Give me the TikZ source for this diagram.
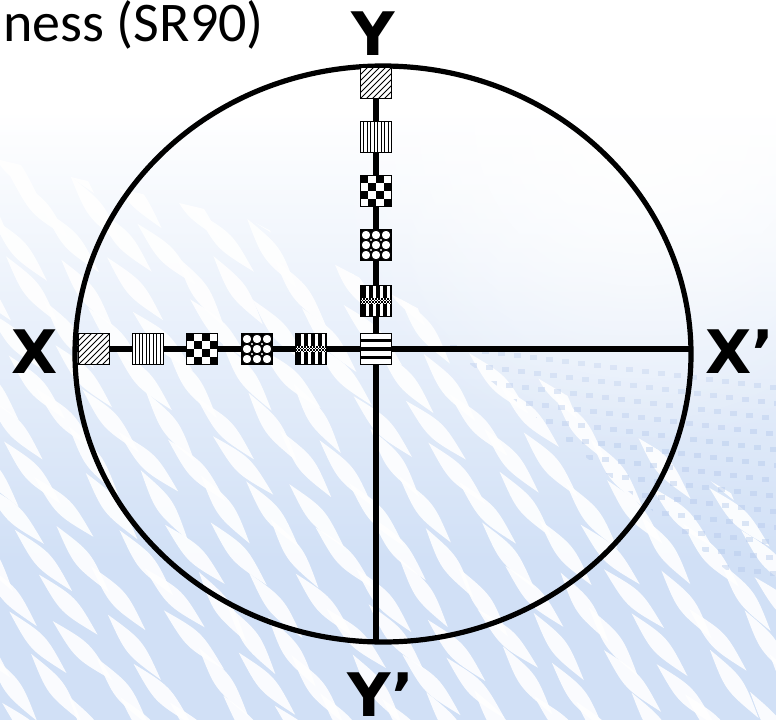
\documentclass[tikz,border=0pt]{standalone}
\usepackage{fontspec}
\setmainfont{Liberation Sans}
\newfontfamily\calib{Carlito}
\newfontfamily\heavy{DejaVu Sans}
\usetikzlibrary{fadings}
\definecolor{bgblue}{HTML}{D1E0F6}
\definecolor{bgdot}{HTML}{B5C9EC}
\tikzfading[name=radfade, inner color=transparent!0, outer color=transparent!100]
\tikzset{
  sq/.style={draw=black, line width=1.8pt, fill=white, minimum width=31pt,
    minimum height=31pt, inner sep=0pt, outer sep=0pt},
  pdiag/.style={sq, path picture={\begin{scope}[shift={(path picture bounding box.center)}]
    \foreach \k in {-36,-30,...,36}{\draw[black, line width=1pt] (\k-16,16) -- (\k+16,-16);}
    \end{scope}}},
  pvert/.style={sq, path picture={\begin{scope}[shift={(path picture bounding box.center)}]
    \foreach \k in {-12.25,-8.75,...,12.3}{\draw[black, line width=1.3pt] (\k,-16) -- (\k,16);}
    \end{scope}}},
  pcheck/.style={sq, path picture={\begin{scope}[shift={(path picture bounding box.center)}]
    \foreach \i/\j in {0/0,0/2,1/1,1/3,2/0,2/2,3/1,3/3}
      {\fill[black] (-15.5+\i*7.75,-15.5+\j*7.75) rectangle ++(7.75,7.75);}
    \end{scope}}},
  pcirc/.style={sq, path picture={\begin{scope}[shift={(path picture bounding box.center)}]
    \fill[black] (-16,-16) rectangle (16,16);
    \foreach \a in {-10,0,10}{\foreach \b in {-10,0,10}
      {\filldraw[fill=white, draw=black, line width=0.9pt] (\a,\b) circle (4.8);}}
    \foreach \a in {-5,5}{\foreach \b in {-5,5}{\fill[white] (\a,\b) circle (1.1);}}
    \end{scope}}},
  pweave/.style={sq, path picture={\begin{scope}[shift={(path picture bounding box.center)}]
    \fill[black] (-16,-16) rectangle (16,16);
    \foreach \k in {-10,-3,4,11}{\fill[white] (\k,-16) rectangle ++(2.6,32);}
    \fill[white] (-16,-3) rectangle (16,3);
    \foreach \k in {-16,-13,...,14}{
      \fill[black] (\k,-3) rectangle ++(1.5,1.5); \fill[black] (\k+1.5,-1.5) rectangle ++(1.5,1.5);
      \fill[black] (\k,0) rectangle ++(1.5,1.5); \fill[black] (\k+1.5,1.5) rectangle ++(1.5,1.5);}
    \end{scope}}},
  phoriz/.style={sq, path picture={\begin{scope}[shift={(path picture bounding box.center)}]
    \foreach \k in {-8.6,0,8.6}{\fill[black] (-16,\k-1.8) rectangle (16,\k+1.8);}
    \end{scope}}},
  axis/.style={line width=5.2pt, black},
  rim/.style={line width=5.2pt, black},
  lab/.style={font=\heavy\bfseries\fontsize{60}{60}\selectfont, inner sep=0pt},
}
\begin{document}
\begin{tikzpicture}[x=1pt,y=-1pt]
\useasboundingbox (0,0) rectangle (776,720);
% background
\fill[white] (0,0) rectangle (776,720);
\shade[top color=white, bottom color=bgblue] (0,110) rectangle (776,560);
\fill[bgblue] (0,559) rectangle (776,720);
\begin{scope}
  \clip (0,160) -- (250,220) -- (440,320) -- (776,520) -- (776,720) -- (0,720) -- cycle;
  \pgfmathsetseed{11}
  \foreach \i in {0,...,16}{\foreach \j in {0,...,13}{
    \pgfmathsetmacro{\cx}{-40+\i*52+mod(\j,2)*26+rand*8}
    \pgfmathsetmacro{\cy}{160+\j*44+rand*8}
    \pgfmathsetmacro{\ang}{-50+rand*6}
    \begin{scope}[shift={(\cx,\cy)}, rotate=\ang]
      \fill[white, opacity=0.9] (-42,0) .. controls (0,11) .. (42,0) .. controls (0,-11) .. (-42,0);
    \end{scope}}}
\end{scope}
\begin{scope}
  \clip (440,340) -- (776,360) -- (776,610) -- cycle;
  \foreach \r in {0,...,12}{\foreach \c in {0,...,20}{
    \fill[bgdot, opacity=0.45] (450+\c*16+\r*4,345+\r*16+\c*2) rectangle ++(7,5);}}
\end{scope}
\fill[white, path fading=radfade] (640,120) circle (330);
% ellipse and axes
\draw[rim] (383,354) ellipse [x radius=308, y radius=288];
\coordinate (W) at (75,349);
\coordinate (E) at (691,349);
\coordinate (N) at (376,66);
\coordinate (S) at (376,642);
\draw[axis] (W) -- (E);
\draw[axis] (N) -- (S);
% squares
\node[pdiag]  (h1) at (94,349) {};
\node[pvert]  (h2) at (148,349) {};
\node[pcheck] (h3) at (202,349) {};
\node[pcirc]  (h4) at (257,349) {};
\node[pweave] (h5) at (311,349) {};
\node[phoriz] (c)  at (376,349) {};
\node[pdiag]  (v1) at (376,83) {};
\node[pvert]  (v2) at (376,137) {};
\node[pcheck] (v3) at (376,191) {};
\node[pcirc]  (v4) at (376,245) {};
\node[pweave] (v5) at (376,301) {};
% labels
\node[lab] (lx)  at (35,352) {X};
\node[lab] (lx2) at (740,352) {X’};
\node[lab] (ly)  at (373,34) {Y};
\node[lab] (ly2) at (381,695) {Y’};
\node[anchor=base west, inner sep=0pt, font=\calib\fontsize{56}{56}\selectfont] (title) at (3,41) {ness (SR90)};
\end{tikzpicture}
\end{document}
